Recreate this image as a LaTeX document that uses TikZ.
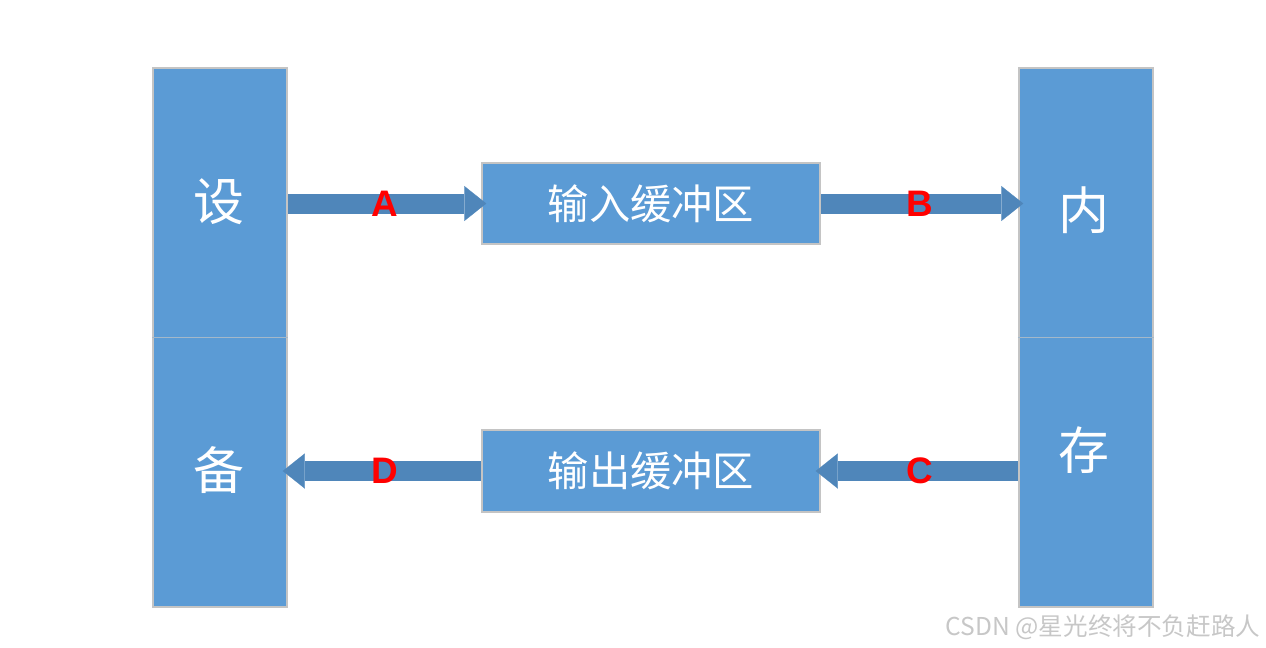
\documentclass[tikz,border=0pt]{standalone}
\usepackage{fontspec}
\setsansfont{Liberation Sans}
\newfontfamily\cjk{Noto Sans CJK SC}
\usetikzlibrary{arrows.meta}
\definecolor{boxblue}{HTML}{5B9BD5}
\definecolor{arrowblue}{HTML}{4F86BA}
\definecolor{edgegray}{HTML}{C4C4C4}
\tikzset{
    col/.style={draw=edgegray, line width=1.2pt, fill=boxblue, minimum width=2.68cm, minimum height=10.78cm, inner sep=0pt},
    buf/.style={draw=edgegray, line width=1.2pt, fill=boxblue, minimum width=6.76cm, minimum height=1.63cm, text=white, font=\cjk\fontsize{23.5}{27}\selectfont},
    bigtxt/.style={text=white, font=\cjk\fontsize{29}{34}\selectfont},
    split/.style={draw=edgegray!70!boxblue, line width=0.6pt},
    flow/.style={arrowblue, line width=0.4cm, -{Triangle[length=0.44cm, width=0.7cm, line width=0.1pt]}, shorten >=-3pt},
    tag/.style={text=red, font=\sffamily\bfseries\fontsize{21}{25}\selectfont},
    wmark/.style={text=black!22, font=\cjk\fontsize{14}{17}\selectfont},
}

\begin{document}
\begin{tikzpicture}[x=0.02cm, y=-0.02cm]
    \useasboundingbox (0,0) rectangle (1266,647);
    \node[col] (dev) at (220,337.5) {};
    \node[col] (mem) at (1086,337.5) {};
    \draw[split] (dev.west) -- (dev.east);
    \draw[split] (mem.west) -- (mem.east);
    \node[bigtxt] (she) at (219,202) {设};
    \node[bigtxt] (bei) at (219,470) {备};
    \node[bigtxt] (nei) at (1084,210) {内};
    \node[bigtxt] (cun) at (1084,450) {存};
    \node[buf] (inbuf) at (651,203.5) {输入缓冲区};
    \node[buf] (outbuf) at (651,471) {输出缓冲区};
    \draw[flow] (dev.east |- inbuf.west) -- node[tag] {A} (inbuf.west);
    \draw[flow] (inbuf.east) -- node[tag] {B} (mem.west |- inbuf.east);
    \draw[flow] (mem.west |- outbuf.east) -- node[tag] {C} (outbuf.east);
    \draw[flow] (outbuf.west) -- node[tag] {D} (dev.east |- outbuf.west);
    \node[wmark] (csdn) at (1103,627) {CSDN @星光终将不负赶路人};
\end{tikzpicture}
\end{document}
